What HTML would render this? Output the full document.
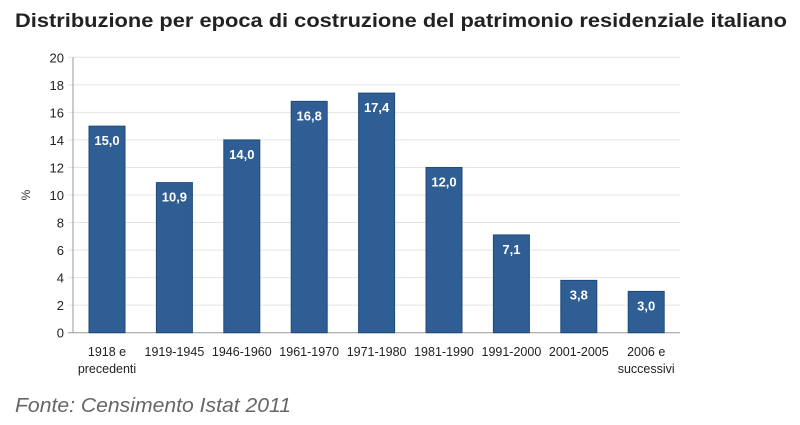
<!DOCTYPE html>
<html><head><meta charset="utf-8"><style>
body{margin:0;background:#fff;width:800px;height:425px;overflow:hidden}
svg{display:block;font-family:"Liberation Sans",sans-serif}
</style></head><body>
<svg id="chart" width="800" height="425">
<text x="15" y="27" font-size="19" font-weight="bold" fill="#222" textLength="772" lengthAdjust="spacingAndGlyphs">Distribuzione per epoca di costruzione del patrimonio residenziale italiano</text>
<g id="grid"></g><g id="bars"></g><g id="labels"></g>
<text x="0" y="0" font-size="12" fill="#333" text-anchor="middle" transform="translate(30,195) rotate(-90)">%</text>
<text x="15" y="412" font-size="20" font-style="italic" fill="#666" textLength="276" lengthAdjust="spacingAndGlyphs">Fonte: Censimento Istat 2011</text>
</svg>
<script>
const categories=[["1918 e","precedenti"],["1919-1945"],["1946-1960"],["1961-1970"],["1971-1980"],["1981-1990"],["1991-2000"],["2001-2005"],["2006 e","successivi"]];
const values=[15.0,10.9,14.0,16.8,17.4,12.0,7.1,3.8,3.0];
const yTicks=[0,2,4,6,8,10,12,14,16,18,20];
const NS="http://www.w3.org/2000/svg";
const x0=73,x1=680,yBase=332.7,yTop=57.3,yMax=20,step=67.4,bw=36,firstX=89;
const y=v=>yBase-(v/yMax)*(yBase-yTop);
const xb=i=>firstX+i*step;
function mk(t,a,p){const e=document.createElementNS(NS,t);for(const k in a)e.setAttribute(k,a[k]);p.appendChild(e);return e;}
const grid=document.getElementById('grid'),bars=document.getElementById('bars'),labels=document.getElementById('labels');
yTicks.forEach(t=>{
  const l=mk('line',{x1:x0-5,x2:x1,y1:y(t),y2:y(t),stroke:t===0?'#999':'#e4e4e4','stroke-width':1},grid);
  
  
  const tx=mk('text',{x:x0-9,y:y(t)+5,'font-size':13,'text-anchor':'end',fill:'#222'},grid);
  tx.textContent=t;
  
  
});
const ax=mk('line',{x1:x0,x2:x0,y1:yTop,y2:yBase,stroke:'#999'},grid);


values.forEach((v,i)=>{
  const r=mk('rect',{x:xb(i),y:y(v),width:bw,height:yBase-y(v),fill:'#2e5e94',stroke:'#1f4a7a','stroke-width':1},bars);
  
  
  const t=mk('text',{x:xb(i)+bw/2,y:y(v)+19,'font-size':13,'font-weight':'bold','text-anchor':'middle',fill:'#fff'},labels);
  t.textContent=v.toFixed(1).replace('.',',');
  
  
  categories[i].forEach((s,j)=>{
    const c=mk('text',{x:xb(i)+bw/2,y:356+j*17,'font-size':12.5,'text-anchor':'middle',fill:'#222'},labels);
    c.textContent=s;
    
    
  });
});
</script>
</body></html>
